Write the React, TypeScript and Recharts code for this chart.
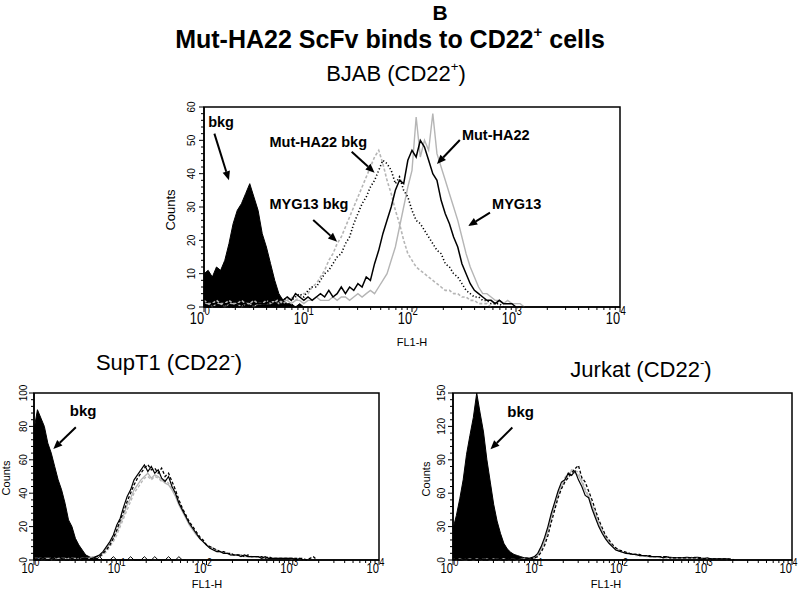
import React from "react";
import {
  ComposedChart,
  Area,
  Line,
  XAxis,
  YAxis,
  ReferenceArea,
  ReferenceLine,
  ReferenceDot,
} from "recharts";

const FONT = '"Liberation Sans", Arial, Helvetica, sans-serif';
const GREY = "#b5b5b5";

// FL1-H channels, binned every 0.04 decade from 10^0 to 10^4
const BIN_STEP = 0.04;
const BIN_COUNT = 101;
const DECADES = [0, 1, 2, 3, 4];

// ---- BJAB (CD22+) ----
const bjabBkg = [10, 11, 9, 12, 11, 14, 19, 25, 29, 31, 34, 37, 33, 29, 22, 18, 13, 8, 4, 2, 1, 1, 0, 1, 0, 0];
const bjabMut = [
  1, 0, 1, 1, 0, 1, 1, 0, 1, 1, 1, 0, 1, 1, 1, 1, 2, 2, 3, 2, 3, 2, 4, 3, 2, 3, 2, 3, 4, 3,
  5, 3, 4, 6, 4, 6, 5, 7, 6, 9, 8, 13, 17, 22, 26, 30, 35, 38, 37, 44, 47, 45, 50, 48, 44, 40, 38, 32, 28, 25,
  21, 18, 13, 10, 7, 5, 4, 3, 2, 2, 1, 2, 1, 1, 1, 0,
];
const bjabMyg = [
  1, 1, 0, 1, 1, 0, 1, 1, 1, 0, 1, 1, 0, 1, 1, 1, 1, 2, 1, 2, 2, 1, 2, 2, 1, 2, 2, 3, 2, 2,
  2, 3, 2, 3, 3, 2, 3, 4, 3, 4, 5, 4, 6, 8, 10, 14, 18, 24, 30, 36, 41, 57, 45, 50, 47, 58, 46, 42, 38, 34,
  30, 26, 21, 16, 12, 9, 6, 4, 4, 3, 2, 2, 1, 2, 1, 1, 1, 0,
];
const bjabMutBkg = [
  1, 0, 0, 1, 0, 1, 0, 0, 1, 0, 1, 0, 1, 0, 1, 1, 1, 2, 1, 2, 3, 2, 3, 4, 3, 5, 6, 6, 8, 10,
  11, 13, 15, 16, 19, 21, 25, 28, 31, 33, 36, 38, 41, 44, 43, 41, 37, 39, 35, 33, 29, 26, 25, 23, 21, 19, 17, 16, 13, 12,
  10, 9, 7, 5, 4, 3, 3, 2, 2, 1, 1, 1, 0,
];
const bjabMygBkg = [
  2, 1, 1, 2, 1, 1, 2, 1, 1, 2, 1, 1, 2, 1, 1, 2, 1, 2, 2, 1, 2, 3, 2, 3, 4, 4, 6, 7, 9, 11,
  14, 16, 19, 21, 24, 27, 30, 33, 36, 39, 42, 45, 47, 43, 38, 34, 29, 25, 20, 16, 14, 12, 11, 10, 9, 8, 7, 6, 5, 5,
  4, 4, 3, 3, 2, 2, 1, 1, 1, 0,
];

// ---- SupT1 (CD22-) ----
const supBkg = [78, 90, 85, 80, 70, 64, 56, 48, 42, 34, 24, 20, 13, 9, 6, 3, 2, 1, 1, 0];
const supBlack = [
  0, 0, 1, 0, 0, 1, 0, 0, 1, 0, 0, 1, 0, 0, 1, 1, 0, 1, 2, 3, 5, 8, 11, 15, 21, 25, 32, 38, 42, 48,
  51, 54, 57, 53, 56, 52, 54, 49, 47, 50, 44, 40, 34, 30, 26, 22, 19, 16, 13, 11, 9, 7, 6, 5, 5, 4, 4, 3, 3, 3,
  2, 3, 2, 2, 2, 2, 1, 2, 1, 1, 1, 1, 1, 1, 1, 1, 0, 1, 0,
];
const supBlackDash = [
  1, 0, 0, 1, 0, 0, 1, 0, 0, 1, 0, 0, 1, 0, 0, 1, 1, 1, 2, 2, 4, 6, 9, 13, 18, 24, 29, 35, 40, 45,
  49, 52, 55, 57, 54, 55, 52, 55, 50, 52, 47, 42, 36, 31, 27, 23, 20, 17, 14, 12, 9, 8, 7, 6, 5, 5, 4, 4, 3, 3,
  3, 2, 3, 2, 2, 2, 2, 1, 2, 1, 1, 1, 1, 1, 1, 1, 1, 1, 1, 0, 1, 2, 0,
];
const supGrey = [
  1, 1, 0, 1, 1, 0, 1, 0, 1, 1, 0, 1, 1, 0, 1, 1, 1, 2, 2, 3, 4, 7, 10, 13, 17, 22, 27, 33, 37, 42,
  45, 48, 50, 52, 49, 51, 50, 48, 46, 45, 42, 38, 33, 29, 25, 21, 18, 15, 13, 11, 9, 7, 6, 5, 5, 4, 4, 3, 3, 3,
  3, 2, 2, 2, 2, 2, 1, 1, 1, 1, 1, 1, 1, 1, 1, 0,
];
const supGreyDash = [
  0, 1, 1, 0, 1, 1, 0, 1, 1, 0, 1, 1, 0, 1, 1, 1, 1, 1, 2, 2, 3, 5, 8, 11, 15, 20, 25, 30, 35, 40,
  43, 46, 49, 50, 48, 50, 49, 47, 48, 46, 43, 39, 35, 30, 26, 22, 19, 16, 13, 11, 9, 8, 7, 6, 5, 4, 4, 4, 3, 3,
  3, 3, 2, 2, 2, 2, 2, 1, 1, 1, 1, 1, 1, 1, 1, 1, 1, 1, 0,
];
const supBase = [
  null, null, null, null, null, null, null, null, null, null, null, null, null, null, null, null, null, 0, 0, 2,
  0, 0, 0, 2, 0, 0, 0, 0, 2, 0, 0, 0, 2, 0, 0, 2, 0, 0, 0, 2, 0, 0, 2, 0, 0,
];

// ---- Jurkat (CD22-) ----
const jurBkg = [28, 40, 55, 72, 95, 112, 128, 150, 132, 115, 90, 70, 50, 35, 24, 15, 10, 7, 5, 4, 3, 2, 2, 1, 1, 0];
const jurBlack = [
  0, 1, 0, 0, 1, 0, 1, 0, 0, 1, 0, 1, 0, 1, 0, 0, 1, 0, 1, 1, 1, 0, 1, 2, 3, 6, 12, 20, 30, 42,
  52, 62, 70, 72, 78, 76, 80, 72, 66, 58, 56, 46, 38, 30, 24, 19, 15, 12, 9, 8, 7, 6, 6, 5, 5, 4, 4, 4, 3, 3,
  3, 3, 2, 3, 2, 2, 2, 2, 2, 2, 2, 2, 2, 1, 1, 2, 1, 1, 1, 1, 1, 1, 0,
];
const jurBlackDash = [
  1, 0, 0, 1, 0, 0, 1, 0, 1, 0, 0, 1, 0, 0, 1, 0, 0, 1, 0, 1, 0, 1, 1, 1, 2, 3, 7, 13, 22, 34,
  45, 56, 64, 70, 74, 78, 82, 85, 74, 70, 62, 54, 45, 36, 29, 22, 18, 14, 11, 9, 8, 7, 6, 5, 5, 5, 4, 4, 4, 3,
  3, 3, 3, 3, 2, 2, 2, 2, 2, 2, 2, 2, 2, 2, 1, 1, 1, 1, 1, 1, 1, 1, 1, 0,
];
const jurGrey = [
  0, 0, 1, 0, 0, 1, 0, 1, 0, 0, 1, 0, 0, 1, 0, 1, 0, 0, 1, 0, 1, 1, 1, 1, 2, 4, 9, 16, 26, 38,
  48, 58, 66, 72, 76, 80, 78, 76, 70, 62, 57, 48, 40, 32, 25, 20, 16, 12, 10, 8, 7, 6, 5, 5, 5, 4, 4, 3, 3, 3,
  3, 3, 2, 2, 3, 2, 2, 2, 2, 3, 2, 2, 3, 2, 2, 1, 1, 1, 1, 1, 1, 0,
];
const jurGreyDash = [
  1, 0, 0, 0, 1, 0, 0, 1, 0, 1, 0, 0, 1, 0, 0, 1, 0, 1, 0, 0, 1, 0, 1, 2, 2, 5, 10, 18, 28, 40,
  50, 60, 68, 74, 78, 81, 80, 79, 72, 64, 58, 50, 42, 34, 27, 21, 17, 13, 10, 9, 7, 6, 6, 5, 4, 4, 4, 4, 3, 3,
  3, 2, 3, 2, 2, 2, 2, 2, 2, 2, 2, 3, 2, 2, 2, 1, 1, 1, 1, 1, 1, 1, 0,
];

type Vals = (number | null)[];
type Series = { key: string; values: Vals; kind: "area" | "line"; color: string; dash?: string; width?: number };
type Note = { text: string; at: [number, number]; from: [number, number]; to: [number, number] };

const makeRows = (series: Series[]) =>
  Array.from({ length: BIN_COUNT }, (_, i) => {
    const row: Record<string, number | null> = { x: +(i * BIN_STEP).toFixed(2) };
    series.forEach((s) => {
      row[s.key] = s.values[i] ?? null;
    });
    return row;
  });

const xTicks = [
  ...DECADES,
  ...DECADES.slice(0, 4).flatMap((d) => [2, 3, 4, 5, 6, 7, 8, 9].map((k) => d + Math.log10(k))),
];

const makeXTick = (fs: number, supFs: number, gap: number, supRise: number) => (p: any) => {
  const { x, y, payload } = p;
  const v = payload.value as number;
  const major = Math.abs(v - Math.round(v)) < 1e-6;
  return (
    <g>
      <line x1={x} x2={x} y1={y} y2={y + (major ? 5 : 3)} stroke="#000" strokeWidth={1} />
      {major && (
        <g transform={`translate(${x},${y + gap}) scale(0.8,1)`} fontFamily={FONT} fill="#000">
          <text x={0} y={0} textAnchor="end" fontSize={fs}>
            10
          </text>
          <text x={0.5} y={-supRise} fontSize={supFs}>
            {Math.round(v)}
          </text>
        </g>
      )}
    </g>
  );
};

const makeYTick = (fs: number, major: number, gap: number) => (p: any) => {
  const { x, y, payload } = p;
  const v = payload.value as number;
  const isMajor = v % major === 0;
  return (
    <g>
      <line x1={x} x2={x - (isMajor ? 5 : 3)} y1={y} y2={y} stroke="#000" strokeWidth={1} />
      {isMajor && (
        <text
          transform={`translate(${x - gap},${y}) rotate(-90)`}
          textAnchor="middle"
          fontSize={fs}
          fontFamily={FONT}
          fill="#000"
        >
          {v}
        </text>
      )}
    </g>
  );
};

const arrowShape = (p: any) => {
  const { x1, y1, x2, y2 } = p;
  const a = Math.atan2(y2 - y1, x2 - x1);
  const L = 9;
  const W = 3.8;
  const bx = x2 - L * Math.cos(a);
  const by = y2 - L * Math.sin(a);
  const pts = `${x2},${y2} ${bx + W * Math.sin(a)},${by - W * Math.cos(a)} ${bx - W * Math.sin(a)},${by + W * Math.cos(a)}`;
  return (
    <g>
      <line x1={x1} y1={y1} x2={bx} y2={by} stroke="#000" strokeWidth={2} />
      <polygon points={pts} fill="#000" />
    </g>
  );
};

type PanelProps = {
  left: number;
  top: number;
  width: number;
  height: number;
  margin: { top: number; right: number; bottom: number; left: number };
  axisW: number;
  axisH: number;
  yMax: number;
  yMajor: number;
  yMinor: number;
  series: Series[];
  notes: Note[];
  xFont: [number, number, number, number];
  yFont: [number, number];
  noteFont: number;
};

function Panel(props: PanelProps) {
  const { left, top, width, height, margin, axisW, axisH, yMax, yMajor, yMinor, series, notes, xFont, yFont, noteFont } =
    props;
  const rows = makeRows(series);
  const yTicks: number[] = [];
  for (let v = 0; v <= yMax; v += yMinor) yTicks.push(v);
  return (
    <div style={{ position: "absolute", left, top }}>
      <ComposedChart width={width} height={height} data={rows} margin={margin}>
        <XAxis
          dataKey="x"
          type="number"
          domain={[0, 4]}
          ticks={xTicks}
          interval={0}
          height={axisH}
          tickSize={0}
          tickMargin={0}
          tickLine={false}
          axisLine={{ stroke: "#000", strokeWidth: 1.5 }}
          tick={makeXTick(...xFont)}
        />
        <YAxis
          type="number"
          domain={[0, yMax]}
          ticks={yTicks}
          interval={0}
          width={axisW}
          tickSize={0}
          tickMargin={0}
          tickLine={false}
          axisLine={{ stroke: "#000", strokeWidth: 1.5 }}
          tick={makeYTick(yFont[0], yMajor, yFont[1])}
        />
        {series.map((s) =>
          s.kind === "area" ? (
            <Area
              key={s.key}
              dataKey={s.key}
              type="linear"
              stroke={s.color}
              strokeWidth={1}
              fill={s.color}
              fillOpacity={1}
              dot={false}
              activeDot={false}
              isAnimationActive={false}
            />
          ) : (
            <Line
              key={s.key}
              dataKey={s.key}
              type="linear"
              stroke={s.color}
              strokeWidth={s.width ?? 1.3}
              strokeDasharray={s.dash}
              dot={false}
              activeDot={false}
              isAnimationActive={false}
            />
          )
        )}
        <ReferenceArea x1={0} x2={4} y1={0} y2={yMax} fill="none" stroke="#000" strokeWidth={1.5} />
        {notes.map((n, i) => (
          <ReferenceLine
            key={`arrow-${i}`}
            segment={[
              { x: n.from[0], y: n.from[1] },
              { x: n.to[0], y: n.to[1] },
            ]}
            ifOverflow="visible"
            shape={arrowShape}
          />
        ))}
        {notes.map((n, i) => (
          <ReferenceDot
            key={`note-${i}`}
            x={n.at[0]}
            y={n.at[1]}
            r={0}
            ifOverflow="visible"
            shape={(p: any) => (
              <text x={p.cx} y={p.cy} fontSize={noteFont} fontWeight="bold" fontFamily={FONT} fill="#000">
                {n.text}
              </text>
            )}
          />
        ))}
      </ComposedChart>
    </div>
  );
}

const Txt = (p: { x: number; y: number; size: number; bold?: boolean; rotate?: boolean; children: React.ReactNode }) => (
  <div
    style={{
      position: "absolute",
      left: p.x,
      top: p.y,
      transform: `translate(-50%,-50%)${p.rotate ? " rotate(-90deg)" : ""}`,
      fontSize: p.size,
      lineHeight: `${p.size}px`,
      fontWeight: p.bold ? "bold" : "normal",
      fontFamily: FONT,
      whiteSpace: "nowrap",
      color: "#000",
    }}
  >
    {p.children}
  </div>
);

const Sup = ({ children }: { children: React.ReactNode }) => (
  <span style={{ fontSize: "0.6em", position: "relative", top: "-0.75em" }}>{children}</span>
);

const bjabSeries: Series[] = [
  { key: "bkg", values: bjabBkg, kind: "area", color: "#000" },
  { key: "mygBkg", values: bjabMygBkg, kind: "line", color: GREY, dash: "3 2", width: 1.6 },
  { key: "myg", values: bjabMyg, kind: "line", color: GREY, width: 1.4 },
  { key: "mutBkg", values: bjabMutBkg, kind: "line", color: "#000", dash: "1.2 2.2", width: 1.6 },
  { key: "mut", values: bjabMut, kind: "line", color: "#000", width: 1.5 },
];

const supSeries: Series[] = [
  { key: "bkg", values: supBkg, kind: "area", color: "#000" },
  { key: "greyDash", values: supGreyDash, kind: "line", color: GREY, dash: "3 2", width: 1.3 },
  { key: "grey", values: supGrey, kind: "line", color: GREY, width: 1.3 },
  { key: "blackDash", values: supBlackDash, kind: "line", color: "#000", dash: "3 2", width: 1.3 },
  { key: "black", values: supBlack, kind: "line", color: "#000", width: 1.2 },
  { key: "base", values: supBase, kind: "line", color: "#000", width: 1 },
];

const jurSeries: Series[] = [
  { key: "bkg", values: jurBkg, kind: "area", color: "#000" },
  { key: "greyDash", values: jurGreyDash, kind: "line", color: GREY, dash: "3 2", width: 1.3 },
  { key: "grey", values: jurGrey, kind: "line", color: GREY, width: 1.3 },
  { key: "blackDash", values: jurBlackDash, kind: "line", color: "#000", dash: "3 2", width: 1.3 },
  { key: "black", values: jurBlack, kind: "line", color: "#000", width: 1.2 },
];

const bjabNotes: Note[] = [
  { text: "bkg", at: [0.04, 54], from: [0.1, 52], to: [0.24, 38] },
  { text: "Mut-HA22 bkg", at: [0.63, 48], from: [1.42, 46.6], to: [1.64, 40.3] },
  { text: "MYG13 bkg", at: [0.63, 29.5], from: [1.05, 26.1], to: [1.28, 19.6] },
  { text: "Mut-HA22", at: [2.48, 50], from: [2.46, 50.1], to: [2.24, 42.9] },
  { text: "MYG13", at: [2.77, 29.5], from: [2.75, 28.3], to: [2.54, 24.3] },
];
const supNotes: Note[] = [{ text: "bkg", at: [0.415, 86.5], from: [0.485, 79.5], to: [0.224, 66.5] }];
const jurNotes: Note[] = [{ text: "bkg", at: [0.64, 128], from: [0.7, 119], to: [0.442, 99.4] }];

export default function App() {
  return (
    <div style={{ position: "absolute", left: 0, top: 0, width: 800, height: 591, background: "#fff", overflow: "hidden" }}>
      <Txt x={440} y={12} size={21} bold>
        B
      </Txt>
      <Txt x={390} y={41} size={25} bold>
        Mut-HA22 ScFv binds to CD22<Sup>+</Sup> cells
      </Txt>
      <Txt x={396} y={75} size={22}>
        BJAB (CD22<Sup>+</Sup>)
      </Txt>
      <Txt x={169} y={364} size={22}>
        SupT1 (CD22<Sup>-</Sup>)
      </Txt>
      <Txt x={641} y={371} size={22}>
        Jurkat (CD22<Sup>-</Sup>)
      </Txt>

      <Panel
        left={150}
        top={95}
        width={490}
        height={250}
        margin={{ top: 12, right: 20, bottom: 8, left: 24 }}
        axisW={30}
        axisH={30}
        yMax={60}
        yMajor={10}
        yMinor={2}
        series={bjabSeries}
        notes={bjabNotes}
        xFont={[16, 12, 17, 9]}
        yFont={[10, 9]}
        noteFont={14.5}
      />
      <Txt x={170} y={210} size={13} rotate>
        Counts
      </Txt>
      <Txt x={412} y={342} size={11}>
        FL1-H
      </Txt>

      <Panel
        left={0}
        top={380}
        width={390}
        height={211}
        margin={{ top: 13, right: 11, bottom: 6, left: 4 }}
        axisW={30}
        axisH={25}
        yMax={100}
        yMajor={20}
        yMinor={4}
        series={supSeries}
        notes={supNotes}
        xFont={[14, 11, 13, 7]}
        yFont={[10, 7]}
        noteFont={15}
      />
      <Txt x={6} y={478} size={11} rotate>
        Counts
      </Txt>
      <Txt x={207} y={584} size={11}>
        FL1-H
      </Txt>

      <Panel
        left={400}
        top={380}
        width={400}
        height={211}
        margin={{ top: 13, right: 8, bottom: 6, left: 23 }}
        axisW={30}
        axisH={25}
        yMax={150}
        yMajor={30}
        yMinor={6}
        series={jurSeries}
        notes={jurNotes}
        xFont={[14, 11, 13, 7]}
        yFont={[10, 8]}
        noteFont={15}
      />
      <Txt x={426} y={479} size={11} rotate>
        Counts
      </Txt>
      <Txt x={606} y={584} size={11}>
        FL1-H
      </Txt>
    </div>
  );
}
